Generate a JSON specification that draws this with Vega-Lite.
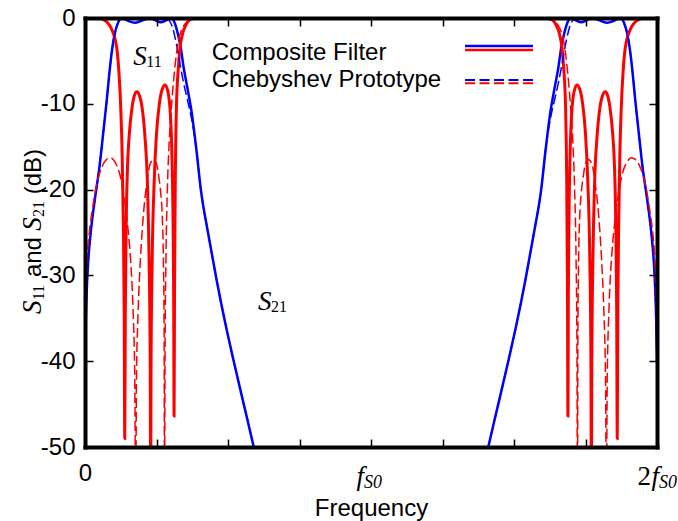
{
  "$schema": "https://vega.github.io/schema/vega-lite/v6.json",
  "width": 572,
  "height": 429,
  "autosize": {"type": "none"},
  "padding": {"left": 85, "top": 18, "right": 21, "bottom": 74},
  "background": "white",
  "config": {
    "view": {"stroke": null},
    "axis": {"labelFont": "Liberation Sans", "titleFont": "Liberation Sans", "labelColor": "black", "titleColor": "black", "tickColor": "black", "domainColor": "black", "grid": false}
  },
  "datasets": {
    "S21c": [
      {"f": 0, "db": -40}, {"f": 0.003, "db": -35}, {"f": 0.007, "db": -31}, {"f": 0.012, "db": -28}, {"f": 0.02, "db": -25}, {"f": 0.035, "db": -21}, {"f": 0.05, "db": -17.5}, {"f": 0.065, "db": -13}, {"f": 0.076, "db": -9.6}, {"f": 0.084, "db": -6.8}, {"f": 0.095, "db": -3.6}, {"f": 0.105, "db": -1.7}, {"f": 0.115, "db": -0.6}, {"f": 0.122, "db": -0.15}, {"f": 0.13, "db": 0}, {"f": 0.14, "db": -0.15}, {"f": 0.155, "db": -0.4}, {"f": 0.175, "db": -0.55}, {"f": 0.195, "db": -0.35}, {"f": 0.215, "db": -0.1}, {"f": 0.23, "db": 0}, {"f": 0.245, "db": -0.25}, {"f": 0.265, "db": -0.5}, {"f": 0.285, "db": -0.25}, {"f": 0.3, "db": 0}, {"f": 0.31, "db": -0.3}, {"f": 0.318, "db": -1}, {"f": 0.325, "db": -1.9}, {"f": 0.335, "db": -3.5}, {"f": 0.345, "db": -5.8}, {"f": 0.36, "db": -8.5}, {"f": 0.373, "db": -11}, {"f": 0.39, "db": -15.5}, {"f": 0.405, "db": -20}, {"f": 0.43, "db": -25}, {"f": 0.46, "db": -30.5}, {"f": 0.49, "db": -35.5}, {"f": 0.52, "db": -40}, {"f": 0.555, "db": -45}, {"f": 0.59, "db": -50}, {"f": 0.61, "db": -53},
      {"f": 1.39, "db": -53}, {"f": 1.41, "db": -50}, {"f": 1.445, "db": -45}, {"f": 1.48, "db": -40}, {"f": 1.51, "db": -35.5}, {"f": 1.54, "db": -30.5}, {"f": 1.57, "db": -25}, {"f": 1.595, "db": -20}, {"f": 1.61, "db": -15.5}, {"f": 1.627, "db": -11}, {"f": 1.64, "db": -8.5}, {"f": 1.655, "db": -5.8}, {"f": 1.665, "db": -3.5}, {"f": 1.675, "db": -1.9}, {"f": 1.682, "db": -1}, {"f": 1.69, "db": -0.3}, {"f": 1.7, "db": 0}, {"f": 1.715, "db": -0.25}, {"f": 1.735, "db": -0.5}, {"f": 1.755, "db": -0.25}, {"f": 1.77, "db": 0}, {"f": 1.785, "db": -0.1}, {"f": 1.805, "db": -0.35}, {"f": 1.825, "db": -0.55}, {"f": 1.845, "db": -0.4}, {"f": 1.86, "db": -0.15}, {"f": 1.87, "db": 0}, {"f": 1.878, "db": -0.15}, {"f": 1.885, "db": -0.6}, {"f": 1.895, "db": -1.7}, {"f": 1.905, "db": -3.6}, {"f": 1.916, "db": -6.8}, {"f": 1.924, "db": -9.6}, {"f": 1.935, "db": -13}, {"f": 1.95, "db": -17.5}, {"f": 1.965, "db": -21}, {"f": 1.98, "db": -25}, {"f": 1.988, "db": -28}, {"f": 1.993, "db": -31}, {"f": 1.997, "db": -35}, {"f": 2, "db": -40}
    ],
    "S21p": [
      {"f": 0, "db": -40}, {"f": 0.003, "db": -35}, {"f": 0.007, "db": -31}, {"f": 0.012, "db": -28}, {"f": 0.02, "db": -25}, {"f": 0.035, "db": -21}, {"f": 0.05, "db": -17.5}, {"f": 0.065, "db": -13}, {"f": 0.076, "db": -9.6}, {"f": 0.084, "db": -6.8}, {"f": 0.095, "db": -3.6}, {"f": 0.105, "db": -1.7}, {"f": 0.115, "db": -0.6}, {"f": 0.122, "db": -0.15}, {"f": 0.13, "db": 0}, {"f": 0.16, "db": -0.08}, {"f": 0.2, "db": -0.05}, {"f": 0.25, "db": -0.08}, {"f": 0.285, "db": 0}, {"f": 0.295, "db": -0.3}, {"f": 0.305, "db": -1.0}, {"f": 0.315, "db": -2.3}, {"f": 0.325, "db": -4}, {"f": 0.335, "db": -5.9}, {"f": 0.345, "db": -7.6}, {"f": 0.36, "db": -9.8}, {"f": 0.373, "db": -11.8}, {"f": 0.39, "db": -15.5}, {"f": 0.405, "db": -20}, {"f": 0.43, "db": -25}, {"f": 0.46, "db": -30.5}, {"f": 0.49, "db": -35.5}, {"f": 0.52, "db": -40}, {"f": 0.555, "db": -45}, {"f": 0.59, "db": -50}, {"f": 0.61, "db": -53},
      {"f": 1.39, "db": -53}, {"f": 1.41, "db": -50}, {"f": 1.445, "db": -45}, {"f": 1.48, "db": -40}, {"f": 1.51, "db": -35.5}, {"f": 1.54, "db": -30.5}, {"f": 1.57, "db": -25}, {"f": 1.595, "db": -20}, {"f": 1.61, "db": -15.5}, {"f": 1.627, "db": -11.8}, {"f": 1.64, "db": -9.8}, {"f": 1.655, "db": -7.6}, {"f": 1.665, "db": -5.9}, {"f": 1.675, "db": -4}, {"f": 1.685, "db": -2.3}, {"f": 1.695, "db": -1.0}, {"f": 1.705, "db": -0.3}, {"f": 1.715, "db": 0}, {"f": 1.75, "db": -0.08}, {"f": 1.8, "db": -0.05}, {"f": 1.84, "db": -0.08}, {"f": 1.87, "db": 0}, {"f": 1.878, "db": -0.15}, {"f": 1.885, "db": -0.6}, {"f": 1.895, "db": -1.7}, {"f": 1.905, "db": -3.6}, {"f": 1.916, "db": -6.8}, {"f": 1.924, "db": -9.6}, {"f": 1.935, "db": -13}, {"f": 1.95, "db": -17.5}, {"f": 1.965, "db": -21}, {"f": 1.98, "db": -25}, {"f": 1.988, "db": -28}, {"f": 1.993, "db": -31}, {"f": 1.997, "db": -35}, {"f": 2, "db": -40}
    ],
    "S11c": [
      {"f": 0, "db": 0}, {"f": 0.05, "db": 0}, {"f": 0.065, "db": -0.2}, {"f": 0.08, "db": -0.6}, {"f": 0.09, "db": -1.1}, {"f": 0.1, "db": -1.9}, {"f": 0.107, "db": -2.7}, {"f": 0.113, "db": -4.0}, {"f": 0.119, "db": -6.5}, {"f": 0.125, "db": -10.5}, {"f": 0.13, "db": -16}, {"f": 0.134, "db": -24}, {"f": 0.137, "db": -34}, {"f": 0.139, "db": -49}, {"f": 0.141, "db": -34}, {"f": 0.144, "db": -24}, {"f": 0.148, "db": -18}, {"f": 0.155, "db": -13.5}, {"f": 0.165, "db": -10.3}, {"f": 0.173, "db": -9}, {"f": 0.181, "db": -8.6}, {"f": 0.19, "db": -9}, {"f": 0.2, "db": -10.5}, {"f": 0.21, "db": -14}, {"f": 0.218, "db": -19}, {"f": 0.224, "db": -28}, {"f": 0.228, "db": -40}, {"f": 0.2295, "db": -56}, {"f": 0.231, "db": -40}, {"f": 0.235, "db": -28}, {"f": 0.242, "db": -19}, {"f": 0.25, "db": -13.5}, {"f": 0.26, "db": -10}, {"f": 0.27, "db": -8.3}, {"f": 0.28, "db": -7.8}, {"f": 0.29, "db": -8.6}, {"f": 0.298, "db": -11}, {"f": 0.304, "db": -16}, {"f": 0.308, "db": -24}, {"f": 0.31, "db": -32}, {"f": 0.3115, "db": -46.4}, {"f": 0.313, "db": -32}, {"f": 0.316, "db": -18}, {"f": 0.32, "db": -10}, {"f": 0.326, "db": -6}, {"f": 0.332, "db": -3.5}, {"f": 0.34, "db": -2}, {"f": 0.35, "db": -1}, {"f": 0.36, "db": -0.4}, {"f": 0.375, "db": -0.1}, {"f": 0.39, "db": 0}, {"f": 0.45, "db": 0},
      {"f": 1.55, "db": 0}, {"f": 1.61, "db": 0}, {"f": 1.625, "db": -0.1}, {"f": 1.64, "db": -0.4}, {"f": 1.65, "db": -1}, {"f": 1.66, "db": -2}, {"f": 1.668, "db": -3.5}, {"f": 1.674, "db": -6}, {"f": 1.68, "db": -10}, {"f": 1.684, "db": -18}, {"f": 1.687, "db": -32}, {"f": 1.6885, "db": -46.4}, {"f": 1.69, "db": -32}, {"f": 1.692, "db": -24}, {"f": 1.696, "db": -16}, {"f": 1.702, "db": -11}, {"f": 1.71, "db": -8.6}, {"f": 1.72, "db": -7.8}, {"f": 1.73, "db": -8.3}, {"f": 1.74, "db": -10}, {"f": 1.75, "db": -13.5}, {"f": 1.758, "db": -19}, {"f": 1.765, "db": -28}, {"f": 1.769, "db": -40}, {"f": 1.7705, "db": -56}, {"f": 1.772, "db": -40}, {"f": 1.776, "db": -28}, {"f": 1.782, "db": -19}, {"f": 1.79, "db": -14}, {"f": 1.8, "db": -10.5}, {"f": 1.81, "db": -9}, {"f": 1.819, "db": -8.6}, {"f": 1.827, "db": -9}, {"f": 1.835, "db": -10.3}, {"f": 1.845, "db": -13.5}, {"f": 1.852, "db": -18}, {"f": 1.856, "db": -24}, {"f": 1.859, "db": -34}, {"f": 1.861, "db": -49}, {"f": 1.863, "db": -34}, {"f": 1.866, "db": -24}, {"f": 1.87, "db": -16}, {"f": 1.875, "db": -10.5}, {"f": 1.881, "db": -6.5}, {"f": 1.887, "db": -4.0}, {"f": 1.893, "db": -2.7}, {"f": 1.9, "db": -1.9}, {"f": 1.91, "db": -1.1}, {"f": 1.92, "db": -0.6}, {"f": 1.935, "db": -0.2}, {"f": 1.95, "db": 0}, {"f": 2, "db": 0}
    ],
    "S11p": [
      {"f": 0, "db": -40}, {"f": 0.003, "db": -33}, {"f": 0.008, "db": -28}, {"f": 0.015, "db": -25}, {"f": 0.025, "db": -22.5}, {"f": 0.04, "db": -19.5}, {"f": 0.06, "db": -17.3}, {"f": 0.075, "db": -16.5}, {"f": 0.09, "db": -16.3}, {"f": 0.105, "db": -16.8}, {"f": 0.12, "db": -18}, {"f": 0.135, "db": -20.5}, {"f": 0.15, "db": -24.5}, {"f": 0.16, "db": -28.5}, {"f": 0.168, "db": -34}, {"f": 0.174, "db": -42}, {"f": 0.177, "db": -56}, {"f": 0.18, "db": -42}, {"f": 0.186, "db": -34}, {"f": 0.194, "db": -28}, {"f": 0.204, "db": -23}, {"f": 0.215, "db": -19.5}, {"f": 0.228, "db": -17}, {"f": 0.24, "db": -16.5}, {"f": 0.25, "db": -17}, {"f": 0.258, "db": -18.5}, {"f": 0.265, "db": -20.5}, {"f": 0.27, "db": -23}, {"f": 0.274, "db": -28}, {"f": 0.2765, "db": -36}, {"f": 0.278, "db": -56}, {"f": 0.28, "db": -38}, {"f": 0.283, "db": -28}, {"f": 0.288, "db": -20}, {"f": 0.295, "db": -14}, {"f": 0.303, "db": -10}, {"f": 0.315, "db": -5.5}, {"f": 0.327, "db": -2.6}, {"f": 0.34, "db": -1.2}, {"f": 0.36, "db": -0.4}, {"f": 0.38, "db": -0.1}, {"f": 0.4, "db": 0}, {"f": 0.45, "db": 0},
      {"f": 1.55, "db": 0}, {"f": 1.6, "db": 0}, {"f": 1.62, "db": -0.1}, {"f": 1.64, "db": -0.4}, {"f": 1.66, "db": -1.2}, {"f": 1.673, "db": -2.6}, {"f": 1.685, "db": -5.5}, {"f": 1.697, "db": -10}, {"f": 1.705, "db": -14}, {"f": 1.712, "db": -20}, {"f": 1.717, "db": -28}, {"f": 1.72, "db": -38}, {"f": 1.722, "db": -56}, {"f": 1.7235, "db": -36}, {"f": 1.726, "db": -28}, {"f": 1.73, "db": -23}, {"f": 1.735, "db": -20.5}, {"f": 1.742, "db": -18.5}, {"f": 1.75, "db": -17}, {"f": 1.76, "db": -16.5}, {"f": 1.772, "db": -17}, {"f": 1.785, "db": -19.5}, {"f": 1.796, "db": -23}, {"f": 1.806, "db": -28}, {"f": 1.814, "db": -34}, {"f": 1.82, "db": -42}, {"f": 1.823, "db": -56}, {"f": 1.826, "db": -42}, {"f": 1.832, "db": -34}, {"f": 1.84, "db": -28.5}, {"f": 1.85, "db": -24.5}, {"f": 1.865, "db": -20.5}, {"f": 1.88, "db": -18}, {"f": 1.895, "db": -16.8}, {"f": 1.91, "db": -16.3}, {"f": 1.925, "db": -16.5}, {"f": 1.94, "db": -17.3}, {"f": 1.96, "db": -19.5}, {"f": 1.975, "db": -22.5}, {"f": 1.985, "db": -25}, {"f": 1.992, "db": -28}, {"f": 1.997, "db": -33}, {"f": 2, "db": -40}
    ]
  },
  "layer": [
    {
      "data": {"name": "S21c"},
      "mark": {"type": "line", "color": "#0000ff", "strokeWidth": 2.5, "clip": true, "interpolate": "monotone"},
      "encoding": {
        "x": {"field": "f", "type": "quantitative", "scale": {"domain": [0, 2], "nice": false, "zero": false},
          "axis": {"orient": "bottom", "values": [0, 0.25, 0.5, 0.75, 1, 1.25, 1.5, 1.75, 2], "tickSize": -8, "tickWidth": 1.5, "domainWidth": 4, "domainCap": "square", "labelExpr": "datum.value == 0 ? '0' : ''", "labelFontSize": 24, "labelPadding": 22, "labelFlush": false, "labelOverlap": false, "labelBound": false, "title": "Frequency", "titleFontSize": 24, "titleFontWeight": "normal", "titlePadding": 11, "zindex": 1}},
        "y": {"field": "db", "type": "quantitative", "scale": {"domain": [-50, 0], "nice": false, "zero": false},
          "axis": {"orient": "left", "values": [-50, -40, -30, -20, -10, 0], "tickSize": -8, "tickWidth": 1.5, "domainWidth": 4, "domainCap": "square", "labelExpr": "replace(datum.label, '−', '-')", "labelFontSize": 24, "labelPadding": 18, "labelFlush": false, "labelOverlap": false, "title": null, "zindex": 1}}
      }
    },
    {
      "data": {"name": "S11c"},
      "mark": {"type": "line", "color": "#ff0000", "strokeWidth": 3, "clip": true, "interpolate": "monotone"},
      "encoding": {
        "x": {"field": "f", "type": "quantitative", "scale": {"domain": [0, 2], "nice": false, "zero": false},
          "axis": {"orient": "top", "values": [0, 0.25, 0.5, 0.75, 1, 1.25, 1.5, 1.75, 2], "tickSize": -8, "tickWidth": 1.5, "domainWidth": 4, "domainCap": "square", "labels": false, "title": null, "zindex": 1}},
        "y": {"field": "db", "type": "quantitative", "scale": {"domain": [-50, 0], "nice": false, "zero": false},
          "axis": {"orient": "right", "values": [-50, -40, -30, -20, -10, 0], "tickSize": -8, "tickWidth": 1.5, "domainWidth": 4, "domainCap": "square", "labels": false, "title": null, "zindex": 1}}
      }
    },
    {
      "data": {"name": "S21p"},
      "mark": {"type": "line", "color": "#0000ff", "strokeWidth": 1.5, "strokeDash": [10, 4], "clip": true, "interpolate": "monotone"},
      "encoding": {
        "x": {"field": "f", "type": "quantitative", "scale": {"domain": [0, 2], "nice": false, "zero": false}, "axis": null},
        "y": {"field": "db", "type": "quantitative", "scale": {"domain": [-50, 0], "nice": false, "zero": false}, "axis": null}
      }
    },
    {
      "data": {"name": "S11p"},
      "mark": {"type": "line", "color": "#ff0000", "strokeWidth": 1.5, "strokeDash": [10, 4], "clip": true, "interpolate": "monotone"},
      "encoding": {
        "x": {"field": "f", "type": "quantitative", "scale": {"domain": [0, 2], "nice": false, "zero": false}, "axis": null},
        "y": {"field": "db", "type": "quantitative", "scale": {"domain": [-50, 0], "nice": false, "zero": false}, "axis": null}
      }
    },
    {
      "data": {"values": [{}]},
      "mark": {"type": "text", "text": "Composite Filter", "font": "Liberation Sans", "fontSize": 24, "align": "left", "baseline": "alphabetic", "color": "black"},
      "encoding": {"x": {"datum": 0.443, "type": "quantitative", "axis": null}, "y": {"datum": -4.895, "type": "quantitative", "axis": null}}
    },
    {
      "data": {"values": [{}]},
      "mark": {"type": "text", "text": "Chebyshev Prototype", "font": "Liberation Sans", "fontSize": 24, "align": "left", "baseline": "alphabetic", "color": "black"},
      "encoding": {"x": {"datum": 0.443, "type": "quantitative", "axis": null}, "y": {"datum": -8.007, "type": "quantitative", "axis": null}}
    },
    {
      "data": {"values": [{}]},
      "mark": {"type": "rule", "color": "#0000ff", "strokeWidth": 2.5},
      "encoding": {"x": {"datum": 1.3287, "type": "quantitative", "axis": null}, "x2": {"datum": 1.5664}, "y": {"datum": -3.263, "type": "quantitative", "axis": null}}
    },
    {
      "data": {"values": [{}]},
      "mark": {"type": "rule", "color": "#ff0000", "strokeWidth": 2.5},
      "encoding": {"x": {"datum": 1.3287, "type": "quantitative", "axis": null}, "x2": {"datum": 1.5664}, "y": {"datum": -3.73, "type": "quantitative", "axis": null}}
    },
    {
      "data": {"values": [{}]},
      "mark": {"type": "rule", "color": "#0000ff", "strokeWidth": 2, "strokeDash": [10, 4.5]},
      "encoding": {"x": {"datum": 1.3287, "type": "quantitative", "axis": null}, "x2": {"datum": 1.5664}, "y": {"datum": -7.226, "type": "quantitative", "axis": null}}
    },
    {
      "data": {"values": [{}]},
      "mark": {"type": "rule", "color": "#ff0000", "strokeWidth": 2, "strokeDash": [10, 4.5]},
      "encoding": {"x": {"datum": 1.3287, "type": "quantitative", "axis": null}, "x2": {"datum": 1.5664}, "y": {"datum": -7.611, "type": "quantitative", "axis": null}}
    },
    {
      "data": {"values": [{}]},
      "mark": {"type": "text", "text": "S", "font": "Liberation Serif", "fontStyle": "italic", "fontSize": 27, "align": "left", "baseline": "alphabetic", "color": "black"},
      "encoding": {"x": {"datum": 0.1689, "type": "quantitative", "axis": null}, "y": {"datum": -5.478, "type": "quantitative", "axis": null}}
    },
    {
      "data": {"values": [{}]},
      "mark": {"type": "text", "text": "11", "font": "Liberation Serif", "fontSize": 16, "align": "left", "baseline": "alphabetic", "dx": 13, "dy": 2, "color": "black"},
      "encoding": {"x": {"datum": 0.1689, "type": "quantitative", "axis": null}, "y": {"datum": -5.478, "type": "quantitative", "axis": null}}
    },
    {
      "data": {"values": [{}]},
      "mark": {"type": "text", "text": "S", "font": "Liberation Serif", "fontStyle": "italic", "fontSize": 27, "align": "left", "baseline": "alphabetic", "color": "black"},
      "encoding": {"x": {"datum": 0.605, "type": "quantitative", "axis": null}, "y": {"datum": -34.03, "type": "quantitative", "axis": null}}
    },
    {
      "data": {"values": [{}]},
      "mark": {"type": "text", "text": "21", "font": "Liberation Serif", "fontSize": 16, "align": "left", "baseline": "alphabetic", "dx": 13, "dy": 2, "color": "black"},
      "encoding": {"x": {"datum": 0.605, "type": "quantitative", "axis": null}, "y": {"datum": -34.03, "type": "quantitative", "axis": null}}
    },
    {
      "data": {"values": [{}]},
      "mark": {"type": "text", "text": "f", "font": "Liberation Serif", "fontStyle": "italic", "fontSize": 27, "align": "right", "baseline": "alphabetic", "dx": -7, "dy": 38, "clip": false, "color": "black"},
      "encoding": {"x": {"datum": 1, "type": "quantitative", "axis": null}, "y": {"datum": -50, "type": "quantitative", "axis": null}}
    },
    {
      "data": {"values": [{}]},
      "mark": {"type": "text", "text": "S0", "font": "Liberation Serif", "fontStyle": "italic", "fontSize": 18, "align": "left", "baseline": "alphabetic", "dx": -7, "dy": 41, "clip": false, "color": "black"},
      "encoding": {"x": {"datum": 1, "type": "quantitative", "axis": null}, "y": {"datum": -50, "type": "quantitative", "axis": null}}
    },
    {
      "data": {"values": [{}]},
      "mark": {"type": "text", "text": "2", "font": "Liberation Serif", "fontSize": 27, "align": "right", "baseline": "alphabetic", "dx": -6, "dy": 38, "clip": false, "color": "black"},
      "encoding": {"x": {"datum": 2, "type": "quantitative", "axis": null}, "y": {"datum": -50, "type": "quantitative", "axis": null}}
    },
    {
      "data": {"values": [{}]},
      "mark": {"type": "text", "text": "f", "font": "Liberation Serif", "fontStyle": "italic", "fontSize": 27, "align": "right", "baseline": "alphabetic", "dx": 2, "dy": 38, "clip": false, "color": "black"},
      "encoding": {"x": {"datum": 2, "type": "quantitative", "axis": null}, "y": {"datum": -50, "type": "quantitative", "axis": null}}
    },
    {
      "data": {"values": [{}]},
      "mark": {"type": "text", "text": "S0", "font": "Liberation Serif", "fontStyle": "italic", "fontSize": 18, "align": "left", "baseline": "alphabetic", "dx": 2, "dy": 41, "clip": false, "color": "black"},
      "encoding": {"x": {"datum": 2, "type": "quantitative", "axis": null}, "y": {"datum": -50, "type": "quantitative", "axis": null}}
    },
    {
      "data": {"values": [{}]},
      "mark": {"type": "text", "text": "S", "font": "Liberation Serif", "fontStyle": "italic", "fontSize": 27, "align": "left", "baseline": "alphabetic", "angle": 270, "dy": -44, "clip": false, "color": "black"},
      "encoding": {"x": {"datum": 0, "type": "quantitative", "axis": null}, "y": {"datum": -34.5, "type": "quantitative", "axis": null}}
    },
    {
      "data": {"values": [{}]},
      "mark": {"type": "text", "text": "11", "font": "Liberation Serif", "fontSize": 16, "align": "left", "baseline": "alphabetic", "angle": 270, "dy": -41, "clip": false, "color": "black"},
      "encoding": {"x": {"datum": 0, "type": "quantitative", "axis": null}, "y": {"datum": -32.9, "type": "quantitative", "axis": null}}
    },
    {
      "data": {"values": [{}]},
      "mark": {"type": "text", "text": "and", "font": "Liberation Sans", "fontSize": 24, "align": "left", "baseline": "alphabetic", "angle": 270, "dy": -44, "clip": false, "color": "black"},
      "encoding": {"x": {"datum": 0, "type": "quantitative", "axis": null}, "y": {"datum": -30.2, "type": "quantitative", "axis": null}}
    },
    {
      "data": {"values": [{}]},
      "mark": {"type": "text", "text": "S", "font": "Liberation Serif", "fontStyle": "italic", "fontSize": 27, "align": "left", "baseline": "alphabetic", "angle": 270, "dy": -44, "clip": false, "color": "black"},
      "encoding": {"x": {"datum": 0, "type": "quantitative", "axis": null}, "y": {"datum": -24.8, "type": "quantitative", "axis": null}}
    },
    {
      "data": {"values": [{}]},
      "mark": {"type": "text", "text": "21", "font": "Liberation Serif", "fontSize": 16, "align": "left", "baseline": "alphabetic", "angle": 270, "dy": -41, "clip": false, "color": "black"},
      "encoding": {"x": {"datum": 0, "type": "quantitative", "axis": null}, "y": {"datum": -23.2, "type": "quantitative", "axis": null}}
    },
    {
      "data": {"values": [{}]},
      "mark": {"type": "text", "text": "(dB)", "font": "Liberation Sans", "fontSize": 24, "align": "left", "baseline": "alphabetic", "angle": 270, "dy": -44, "clip": false, "color": "black"},
      "encoding": {"x": {"datum": 0, "type": "quantitative", "axis": null}, "y": {"datum": -20.55, "type": "quantitative", "axis": null}}
    }
  ],
  "resolve": {"axis": {"x": "independent", "y": "independent"}}
}
